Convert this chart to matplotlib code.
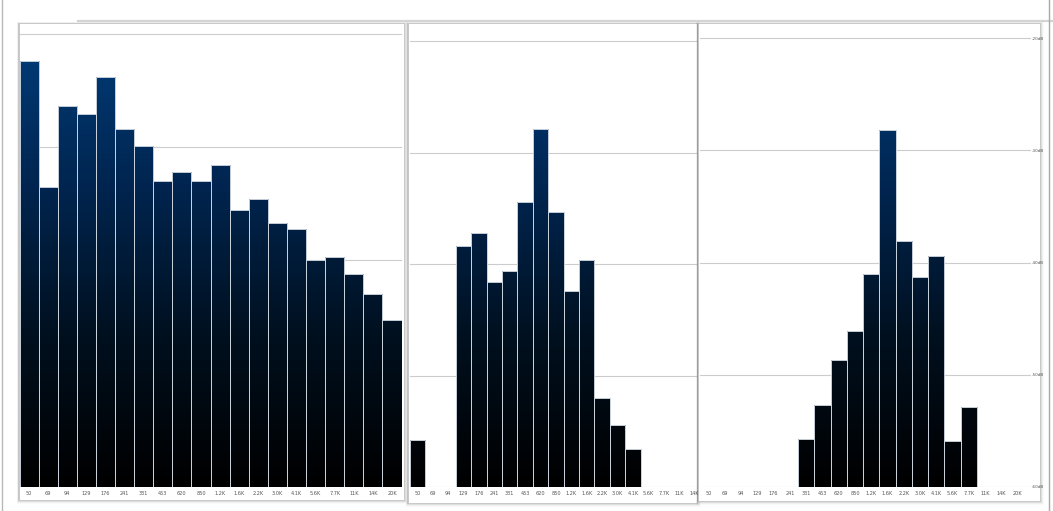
import numpy as np
import matplotlib
matplotlib.use("Agg")
import matplotlib.pyplot as plt
from matplotlib.patches import Rectangle
from matplotlib.lines import Line2D
from matplotlib.colors import LinearSegmentedColormap

# ---------------- data ----------------
bands = ['50', '69', '94', '129', '176', '241', '331', '453', '620', '850',
         '1.2K', '1.6K', '2.2K', '3.0K', '4.1K', '5.6K', '7.7K', '11K', '14K', '20K']
nan = np.nan
level_left = [-22.4, -33.5, -26.4, -27.1, -23.8, -28.4, -29.9, -33.0, -32.2, -33.0,
              -31.6, -35.6, -34.6, -36.7, -37.2, -40.0, -39.7, -41.2, -43.0, -45.3]
level_mid = [-55.8, nan, nan, -38.4, -37.2, -41.6, -40.6, -34.4, -27.9, -35.3,
             -42.4, -39.6, -52.0, -54.4, -56.6, nan, nan, nan, nan, nan]
level_right = [nan, nan, nan, nan, nan, nan, -55.7, -52.7, -48.7, -46.1,
               -41.0, -28.2, -38.1, -41.3, -39.4, -55.9, -52.9, nan, nan, nan]
db_ticks = [-60, -50, -40, -30, -20]
db_labels = ['-60dB', '-50dB', '-40dB', '-30dB', '-20dB']
floor_db = -60

# ---------------- figure ----------------
W, H = 1053, 511
fig = plt.figure(figsize=(W / 100, H / 100), dpi=100)
fig.patch.set_facecolor('white')


def rect_px(l, t, r, b):
    return [l / W, 1 - b / H, (r - l) / W, (b - t) / H]


def fig_line(x0, y0, x1, y1, color, lw, z=0.5):
    fig.add_artist(Line2D([x0 / W, x1 / W], [1 - y0 / H, 1 - y1 / H],
                          transform=fig.transFigure, color=color, lw=lw, zorder=z))


def window(l, t, r, b, z):
    # soft drop shadow
    for i, a in enumerate([0.10, 0.07, 0.04, 0.02]):
        d = i + 1
        fig.add_artist(Rectangle(((l - d * 0.6) / W, 1 - (b + d) / H),
                                 (r - l + d * 1.6) / W, (b - t + d * 1.2) / H,
                                 transform=fig.transFigure, facecolor='black',
                                 edgecolor='none', alpha=a, zorder=z - 0.1))
    fig.add_artist(Rectangle((l / W, 1 - b / H), (r - l) / W, (b - t) / H,
                             transform=fig.transFigure, facecolor='white',
                             edgecolor='#c4c4c4', lw=0.6, zorder=z))


# background window edges
fig_line(2, 0, 2, 511, '#b8b8b8', 1.0)
fig_line(78, 21.5, 1053, 21.5, '#d4d4d4', 1.6)
fig_line(1048.5, 0, 1048.5, 511, '#a8a8a8', 1.0)

cmap = LinearSegmentedColormap.from_list('eq', ['#000000', '#00101f', '#002550', '#003d7a'])


def draw_panel(ax, values, ylim_top, xright, show_right=False):
    x = np.arange(len(bands))
    v = np.array(values, dtype=float)
    ax.set_facecolor('none')
    mask = ~np.isnan(v)
    bars = ax.bar(x[mask], v[mask] - floor_db, bottom=floor_db, width=1.0,
                  facecolor='none', edgecolor='#c9d1da', linewidth=0.7, zorder=3)
    grad = np.linspace(0, 1, 256).reshape(-1, 1)
    for b in bars:
        im = ax.imshow(grad, cmap=cmap, origin='lower', aspect='auto',
                       extent=[-0.5, len(bands) - 0.5, floor_db, -20],
                       interpolation='bilinear', zorder=2)
        im.set_clip_path(b)
    ax.set_xticks(x)
    ax.set_xticklabels(bands)
    ax.tick_params(axis='x', length=0, pad=2.6, labelsize=3.6, labelcolor='#555555')
    ax.set_yticks(db_ticks)
    if show_right:
        ax.yaxis.tick_right()
        ax.set_yticklabels(db_labels)
        ax.tick_params(axis='y', length=0, pad=0.8, labelsize=3.0, labelcolor='#555555')
    else:
        ax.tick_params(axis='y', length=0, labelleft=False)
    ax.grid(axis='y', color='#cccccc', lw=0.8)
    ax.set_axisbelow(True)
    for s in ax.spines.values():
        s.set_visible(False)
    ax.set_xlim(-0.5, xright)
    ax.set_ylim(floor_db, ylim_top)


# panel 1
window(19, 23, 404, 500, 1)
ax1 = fig.add_axes(rect_px(19.5, 23, 401.6, 487))
ax1.set_zorder(2)
draw_panel(ax1, level_left, -19.07, 19.5)

# panel 2
window(408, 23, 697, 503, 3)
ax2 = fig.add_axes(rect_px(409.7, 23, 697, 487))
ax2.set_zorder(4)
draw_panel(ax2, level_mid, -18.36, 18.16)

# panel 3
window(698, 23, 1040, 501, 5)
ax3 = fig.add_axes(rect_px(700.4, 23, 1030.7, 487))
ax3.set_zorder(6)
draw_panel(ax3, level_right, -18.66, 19.8, show_right=True)

fig.savefig('out.png', dpi=100, facecolor='white')
